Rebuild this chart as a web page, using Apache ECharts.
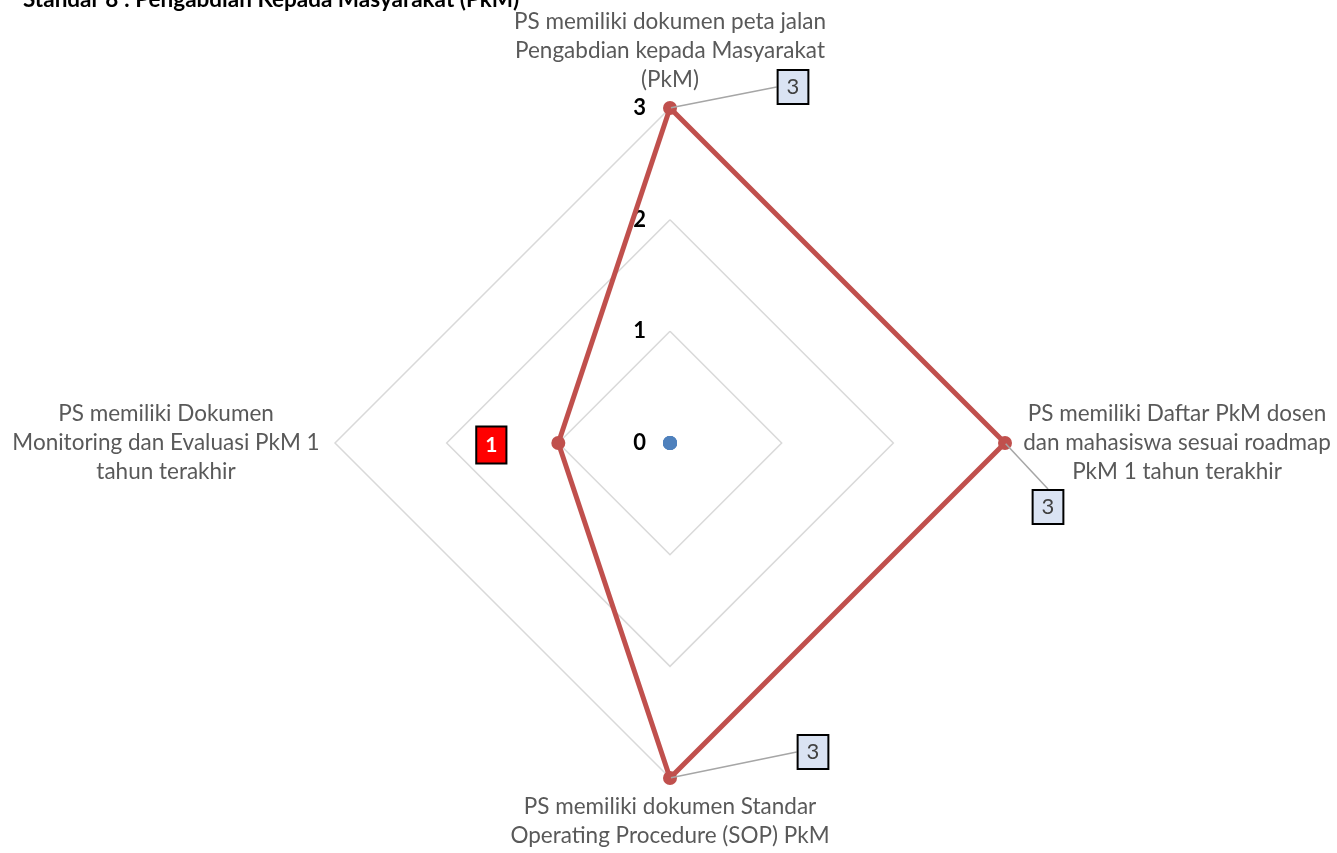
<!DOCTYPE html>
<html>
<head>
<meta charset="utf-8">
<script src="https://cdn.jsdelivr.net/npm/echarts@6/dist/echarts.min.js"></script>
<style>html,body{margin:0;padding:0;background:#fff;}#c{width:1337px;height:853px;}</style>
</head>
<body>
<div id="c"></div>
<script>
// Categories in the chart's clockwise order: top, right, bottom, left
const categories = [
  "PS memiliki dokumen peta jalan\nPengabdian kepada Masyarakat\n(PkM)",
  "PS memiliki Daftar PkM dosen\ndan mahasiswa sesuai roadmap\nPkM 1 tahun terakhir",
  "PS memiliki dokumen Standar\nOperating Procedure (SOP) PkM",
  "PS memiliki Dokumen\nMonitoring dan Evaluasi PkM 1\ntahun terakhir"
];
const scoreValues = [3, 3, 3, 1];
const baseValues = [0, 0, 0, 0];
const axisMax = 3;
const titleText = "Standar 8 : Pengabdian Kepada Masyarakat (PkM)";

const FONT = "Lato, 'Open Sans', sans-serif";
const NAME_SIZE = 22.5;
// radar places indicators counter-clockwise; reorder to get clockwise layout
const order = [0, 3, 2, 1];
const sideStyle = ['c', 'r', 'c', 'l'];

const chart = echarts.init(document.getElementById('c'));
const option = {
  backgroundColor: '#fff',
  animation: false,
  title: {
    text: titleText,
    left: 18, top: -17,
    textStyle: { fontFamily: FONT, fontWeight: 'bold', fontSize: 22.5, color: '#000' }
  },
  radar: {
    center: [670, 443],
    radius: 335,
    shape: 'polygon',
    splitNumber: 3,
    startAngle: 90,
    indicator: order.map(i => ({ name: categories[i], min: 0, max: axisMax })),
    axisLine: { show: false },
    splitLine: { lineStyle: { color: '#d9d9d9', width: 1.5 } },
    splitArea: { show: false },
    axisLabel: { show: false },
    axisNameGap: 14,
    axisName: {
      fontFamily: FONT, fontSize: NAME_SIZE, color: '#595959', lineHeight: 29,
      formatter: function (name) {
        const idx = categories.indexOf(name);
        const s = sideStyle[idx];
        return name.split('\n').map(l => '{' + s + '|' + l + '}').join('\n');
      },
      rich: {
        c: { fontFamily: FONT, fontSize: NAME_SIZE, color: '#595959', lineHeight: 29, align: 'center' },
        r: { fontFamily: FONT, fontSize: NAME_SIZE, color: '#595959', lineHeight: 29, width: 316, align: 'center' },
        l: { fontFamily: FONT, fontSize: NAME_SIZE, color: '#595959', lineHeight: 29, width: 310, align: 'center' }
      }
    }
  },
  polar: { center: [670, 443], radius: 335 },
  angleAxis: {
    type: 'category', data: categories, boundaryGap: false, startAngle: 90, clockwise: true,
    axisLine: { show: false }, axisTick: { show: false }, axisLabel: { show: false }, splitLine: { show: false }
  },
  radiusAxis: {
    type: 'value', min: 0, max: axisMax, interval: 1,
    axisLine: { show: false }, axisTick: { show: false }, splitLine: { show: false },
    axisLabel: { fontFamily: FONT, fontWeight: 'bold', fontSize: 22, color: '#000', margin: 24 }
  },
  series: [
    {
      type: 'radar',
      symbol: 'circle', symbolSize: 14,
      lineStyle: { width: 0 },
      itemStyle: { color: '#4f81bd' },
      data: [{ value: order.map(i => baseValues[i]) }],
      z: 2
    },
    {
      type: 'radar',
      symbol: 'circle', symbolSize: 14,
      lineStyle: { width: 5, color: '#c0504d' },
      itemStyle: { color: '#c0504d' },
      data: [{ value: order.map(i => scoreValues[i]) }],
      z: 3
    },
    {
      type: 'scatter',
      coordinateSystem: 'polar',
      symbolSize: 2,
      itemStyle: { color: 'rgba(0,0,0,0)', opacity: 1 },
      z: 5,
      data: scoreValues.map((v, i) => ({
        value: [v, i],
        label: v >= 3 ? {
          show: true, formatter: String(v),
          fontFamily: FONT, fontSize: 22, color: '#404040',
          backgroundColor: '#dae3f3', borderColor: '#000', borderWidth: 2,
          padding: [6, 8, 4, 8]
        } : {
          show: true, formatter: String(v),
          fontFamily: FONT, fontSize: 21, fontWeight: 'bold', color: '#fff',
          backgroundColor: '#ff0000', borderColor: '#000', borderWidth: 2,
          padding: [8, 8, 6, 8]
        },
        labelLine: { show: v >= 3 }
      })),
      label: { show: true, position: 'inside' },
      labelLine: { show: true, lineStyle: { color: '#a6a6a6', width: 1.5 } },
      labelLayout: function (p) {
        const offs = [[123, -21], [43, 64], [143, -26], [-67, 2]];
        return { dx: offs[p.dataIndex][0], dy: offs[p.dataIndex][1] };
      }
    }
  ]
};
chart.setOption(option);
</script>
</body>
</html>
